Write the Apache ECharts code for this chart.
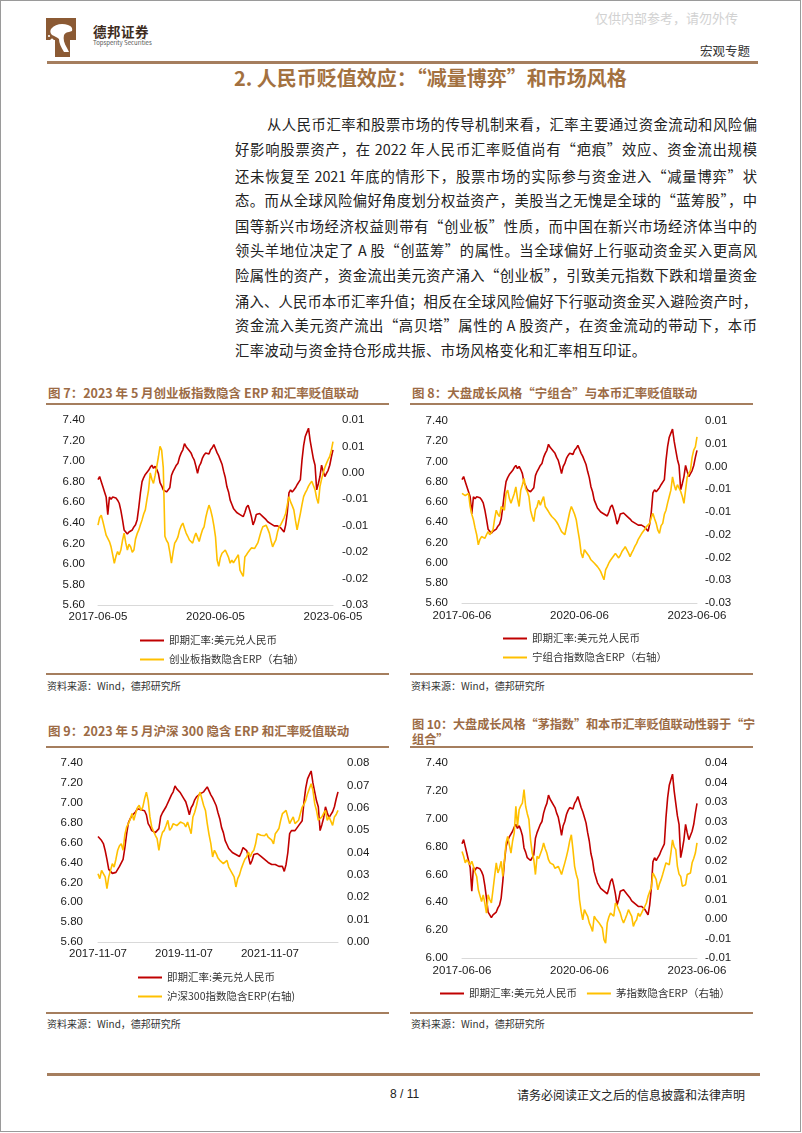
<!DOCTYPE html>
<html lang="zh-CN">
<head>
<meta charset="utf-8">
<title>德邦证券 宏观专题</title>
<script src="https://cdn.jsdelivr.net/npm/echarts/dist/echarts.min.js"></script>
<style>
  html,body{margin:0;padding:0;background:#fff;}
  body{width:802px;height:1133px;position:relative;overflow:hidden;font-family:"Noto Sans CJK SC",sans-serif;color:#222;}
  .abs{position:absolute;white-space:nowrap;}
  .frame{position:absolute;left:0;top:0;width:799px;height:1130px;border:1.5px solid #9a9a9a;}
  .rule{position:absolute;background:#a57e5e;}
  .bl{position:absolute;left:235px;width:522px;font-size:14.3px;line-height:20px;text-align:justify;text-align-last:justify;color:#222;}
  .ct{position:absolute;font-size:12.5px;font-weight:bold;color:#9c6b45;line-height:16px;white-space:nowrap;}
  .src{position:absolute;font-size:10px;color:#333;line-height:12px;white-space:nowrap;}
  .chart{position:absolute;}
</style>
</head>
<body>
<div class="frame"></div>

<!-- header -->
<svg class="abs" style="left:46px;top:18px" width="32" height="40" viewBox="0 0 32 40">
  <path d="M0 0 H30 V22 H24 V39 H9 V22 H0 Z" fill="#8b5a34"/>
  <path d="M5 11 C9 6,16 5,22 7 C25 8,27 10,26 13 L23 14 C21 14,19 15,18 17 C17 21,18 25,21 30 L23 34 L18 34 C15 29,13 25,13 21 C11 19,8 18,6 17 C4 15,4 13,5 11 Z" fill="#fff"/>
  <circle cx="6" cy="22" r="1.6" fill="#fff"/>
  <circle cx="3" cy="18" r="1.1" fill="#fff"/>
</svg>
<div class="abs" style="left:93px;top:21px;font-size:13.5px;font-weight:bold;color:#3e2c20;letter-spacing:0.5px;">德邦证券</div>
<div class="abs" style="left:93px;top:38px;font-size:6px;color:#555;">Topsperity Securities</div>
<div class="abs" style="left:595px;top:8px;font-size:13px;color:#d2d2d2;">仅供内部参考，请勿外传</div>
<div class="abs" style="left:700px;top:41px;font-size:12.5px;color:#333;">宏观专题</div>
<div class="rule" style="left:47px;top:61px;width:711px;height:2.5px;"></div>
<div class="abs" style="left:234px;top:65px;font-size:20px;line-height:26px;font-weight:bold;color:#a3713f;">2. 人民币贬值效应：“减量博弈”和市场风格</div>

<!-- body text -->
<div class="bl" style="top:114px;left:267px;width:490px;">从人民币汇率和股票市场的传导机制来看，汇率主要通过资金流动和风险偏</div>
<div class="bl" style="top:139px;">好影响股票资产，在 2022 年人民币汇率贬值尚有“疤痕”效应、资金流出规模</div>
<div class="bl" style="top:166px;">还未恢复至 2021 年底的情形下，股票市场的实际参与资金进入“减量博弈”状</div>
<div class="bl" style="top:190px;">态。而从全球风险偏好角度划分权益资产，美股当之无愧是全球的“蓝筹股”，中</div>
<div class="bl" style="top:216px;">国等新兴市场经济权益则带有“创业板”性质，而中国在新兴市场经济体当中的</div>
<div class="bl" style="top:240px;">领头羊地位决定了 A 股“创蓝筹”的属性。当全球偏好上行驱动资金买入更高风</div>
<div class="bl" style="top:265px;">险属性的资产，资金流出美元资产涌入“创业板”，引致美元指数下跌和增量资金</div>
<div class="bl" style="top:291px;">涌入、人民币本币汇率升值；相反在全球风险偏好下行驱动资金买入避险资产时，</div>
<div class="bl" style="top:315px;">资金流入美元资产流出“高贝塔”属性的 A 股资产，在资金流动的带动下，本币</div>
<div class="bl" style="top:340px;text-align:left;text-align-last:left;letter-spacing:0.4px;">汇率波动与资金持仓形成共振、市场风格变化和汇率相互印证。</div>

<!-- chart titles and rules -->
<div class="ct" style="left:48px;top:385px;">图 7：2023 年 5 月创业板指数隐含 ERP 和汇率贬值联动</div>
<div class="ct" style="left:412px;top:385px;">图 8：大盘成长风格“宁组合”与本币汇率贬值联动</div>
<div class="rule" style="left:46px;top:403px;width:343px;height:1.5px;"></div>
<div class="rule" style="left:410px;top:403px;width:343px;height:1.5px;"></div>
<div class="rule" style="left:46px;top:673px;width:343px;height:1.5px;"></div>
<div class="rule" style="left:410px;top:673px;width:343px;height:1.5px;"></div>
<div class="src" style="left:47px;top:680px;">资料来源：Wind，德邦研究所</div>
<div class="src" style="left:411px;top:680px;">资料来源：Wind，德邦研究所</div>

<div class="ct" style="left:48px;top:723px;">图 9：2023 年 5 月沪深 300 隐含 ERP 和汇率贬值联动</div>
<div class="ct" style="left:412px;top:716px;font-size:12.2px;letter-spacing:-0.1px;">图 10：大盘成长风格“茅指数”和本币汇率贬值联动性弱于“宁</div>
<div class="ct" style="left:412px;top:731px;font-size:12.2px;">组合”</div>
<div class="rule" style="left:46px;top:746px;width:343px;height:1.5px;"></div>
<div class="rule" style="left:410px;top:746px;width:343px;height:1.5px;"></div>
<div class="rule" style="left:46px;top:1012px;width:343px;height:1.5px;"></div>
<div class="rule" style="left:410px;top:1012px;width:343px;height:1.5px;"></div>
<div class="src" style="left:47px;top:1018px;">资料来源：Wind，德邦研究所</div>
<div class="src" style="left:411px;top:1018px;">资料来源：Wind，德邦研究所</div>

<!-- charts -->
<div id="c7" class="chart" style="left:40px;top:408px;width:360px;height:265px;"></div>
<div id="c8" class="chart" style="left:405px;top:408px;width:360px;height:265px;"></div>
<div id="c9" class="chart" style="left:40px;top:752px;width:360px;height:258px;"></div>
<div id="c10" class="chart" style="left:405px;top:752px;width:360px;height:258px;"></div>

<!-- footer -->
<div class="rule" style="left:47px;top:1073px;width:713px;height:2.5px;"></div>
<div class="abs" style="left:390px;top:1087px;font-size:12px;font-family:'Liberation Sans',sans-serif;color:#222;">8 / 11</div>
<div class="abs" style="left:517px;top:1086px;font-size:12px;color:#222;">请务必阅读正文之后的信息披露和法律声明</div>

<script>
// ---------------- data (half-monthly) ----------------
// USD/CNY spot, 2017-06 (first half) .. 2023-06 (first half)
const usdcny = [
 6.82,6.85,6.80,6.75,6.70,6.65,6.48,6.65,6.63,6.65,
 6.66,6.64,6.62,6.59,6.52,6.43,6.33,6.31,6.29,6.31,
 6.30,6.33,6.36,6.38,6.43,6.55,6.69,6.80,6.84,6.87,
 6.88,6.91,6.94,6.96,6.93,6.95,6.92,6.88,6.79,6.76,
 6.72,6.73,6.70,6.71,6.74,6.86,6.90,6.93,6.96,6.98,
 7.04,7.08,7.11,7.17,7.14,7.12,7.10,7.08,7.04,7.01,
 6.95,6.88,6.95,6.98,7.03,7.06,7.08,7.09,7.07,7.11,
 7.13,7.16,7.12,7.08,7.05,7.01,6.97,6.90,6.84,6.75,
 6.70,6.62,6.58,6.54,6.53,6.50,6.49,6.48,6.47,6.46,
 6.50,6.55,6.57,6.52,6.46,6.38,6.42,6.48,6.47,6.49,
 6.48,6.46,6.45,6.43,6.41,6.40,6.39,6.38,6.37,6.38,
 6.37,6.36,6.35,6.36,6.31,6.38,6.50,6.69,6.72,6.70,
 6.72,6.74,6.77,6.78,6.82,7.01,7.15,7.24,7.28,7.32,
 7.20,7.11,7.02,6.96,6.72,6.78,6.85,6.96,6.90,6.85,
 6.88,6.91,6.96,7.04,7.11];

// 创业板指数隐含ERP
const erpChiNext = [
 -0.0099,-0.0085,-0.0080,-0.0092,-0.0105,-0.0118,-0.0124,-0.0130,-0.0140,-0.0155,
 -0.0171,-0.0158,-0.0149,-0.0155,-0.0146,-0.0128,-0.0114,-0.0132,-0.0146,-0.0135,
 -0.0140,-0.0150,-0.0146,-0.0125,-0.0115,-0.0108,-0.0098,-0.0089,-0.0078,-0.0070,
 -0.0050,-0.0032,0.0000,-0.0012,-0.0020,-0.0005,0.0012,0.0030,0.0050,0.0043,
 0.0010,-0.0120,-0.0128,-0.0133,-0.0150,-0.0171,-0.0150,-0.0133,-0.0128,-0.0121,
 -0.0108,-0.0100,-0.0095,-0.0105,-0.0114,-0.0120,-0.0127,-0.0128,-0.0133,-0.0122,
 -0.0114,-0.0122,-0.0130,-0.0118,-0.0108,-0.0102,-0.0085,-0.0072,-0.0061,-0.0070,
 -0.0083,-0.0100,-0.0121,-0.0165,-0.0177,-0.0160,-0.0152,-0.0150,-0.0146,-0.0146,
 -0.0160,-0.0171,-0.0165,-0.0170,-0.0171,-0.0160,-0.0155,-0.0184,-0.0190,-0.0196,
 -0.0159,-0.0155,-0.0150,-0.0146,-0.0142,-0.0140,-0.0143,-0.0146,-0.0132,-0.0121,
 -0.0110,-0.0102,-0.0100,-0.0099,-0.0106,-0.0114,-0.0128,-0.0140,-0.0133,-0.0127,
 -0.0112,-0.0102,-0.0098,-0.0095,-0.0085,-0.0077,-0.0060,-0.0045,-0.0055,-0.0062,
 -0.0070,-0.0090,-0.0108,-0.0092,-0.0077,-0.0060,-0.0045,-0.0038,-0.0032,-0.0025,
 -0.0020,-0.0016,-0.0013,-0.0032,-0.0048,-0.0058,-0.0026,-0.0012,0.0000,0.0010,
 0.0018,0.0025,0.0031,0.0043,0.0059];

// 宁组合指数隐含ERP
const erpNing = [
 -0.0059,-0.0055,-0.0064,-0.0066,-0.0059,-0.0088,-0.0105,-0.0117,-0.0135,-0.0150,
 -0.0172,-0.0160,-0.0154,-0.0150,-0.0158,-0.0150,-0.0143,-0.0150,-0.0145,-0.0139,
 -0.0115,-0.0096,-0.0105,-0.0110,-0.0088,-0.0092,-0.0096,-0.0059,-0.0052,-0.0070,
 -0.0081,-0.0081,-0.0060,-0.0045,-0.0070,-0.0088,-0.0052,-0.0040,-0.0026,-0.0048,
 -0.0055,-0.0066,-0.0096,-0.0110,-0.0121,-0.0095,-0.0088,-0.0074,-0.0085,-0.0075,
 -0.0066,-0.0088,-0.0092,-0.0099,-0.0105,-0.0110,-0.0112,-0.0117,-0.0122,-0.0128,
 -0.0128,-0.0143,-0.0145,-0.0150,-0.0150,-0.0117,-0.0100,-0.0088,-0.0096,-0.0105,
 -0.0117,-0.0140,-0.0161,-0.0190,-0.0201,-0.0183,-0.0188,-0.0191,-0.0198,-0.0205,
 -0.0208,-0.0212,-0.0216,-0.0220,-0.0225,-0.0231,-0.0240,-0.0249,-0.0227,-0.0220,
 -0.0212,-0.0206,-0.0201,-0.0196,-0.0191,-0.0196,-0.0201,-0.0195,-0.0187,-0.0182,
 -0.0176,-0.0176,-0.0190,-0.0198,-0.0190,-0.0183,-0.0175,-0.0169,-0.0160,-0.0154,
 -0.0148,-0.0143,-0.0138,-0.0132,-0.0128,-0.0125,-0.0112,-0.0103,-0.0115,-0.0125,
 -0.0140,-0.0147,-0.0130,-0.0125,-0.0105,-0.0096,-0.0080,-0.0066,-0.0052,-0.0023,
 -0.0040,-0.0052,-0.0040,-0.0037,-0.0055,-0.0066,-0.0081,-0.0052,-0.0023,-0.0015,
 -0.0008,0.0020,0.0036,0.0043,0.0065];

// 沪深300指数隐含ERP, 2017-11 .. 2023-06
const erpHS300 = [
 0.0305,0.0283,0.0320,0.0313,0.0291,0.0238,0.0291,0.0320,0.0350,0.0335,
 0.0370,0.0410,0.0430,0.0439,0.0410,0.0480,0.0514,0.0529,0.0550,0.0574,
 0.0544,0.0574,0.0600,0.0611,0.0588,0.0603,0.0640,0.0670,0.0633,0.0559,
 0.0514,0.0495,0.0477,0.0462,0.0410,0.0462,0.0490,0.0499,0.0521,0.0544,
 0.0499,0.0510,0.0529,0.0536,0.0520,0.0514,0.0536,0.0532,0.0529,0.0514,
 0.0536,0.0510,0.0484,0.0559,0.0580,0.0610,0.0648,0.0670,0.0640,0.0610,
 0.0588,0.0529,0.0480,0.0440,0.0380,0.0410,0.0395,0.0375,0.0365,0.0372,
 0.0350,0.0358,0.0365,0.0335,0.0320,0.0313,0.0291,0.0246,0.0283,0.0300,
 0.0328,0.0350,0.0370,0.0380,0.0402,0.0380,0.0400,0.0410,0.0439,0.0484,
 0.0480,0.0477,0.0469,0.0475,0.0484,0.0469,0.0462,0.0455,0.0439,0.0484,
 0.0495,0.0507,0.0544,0.0574,0.0580,0.0588,0.0596,0.0529,0.0545,0.0559,
 0.0529,0.0535,0.0544,0.0574,0.0603,0.0615,0.0633,0.0663,0.0685,0.0707,
 0.0678,0.0618,0.0588,0.0544,0.0550,0.0559,0.0575,0.0588,0.0544,0.0559,
 0.0540,0.0521,0.0559,0.0570,0.0588];

// 茅指数隐含ERP
const erpMao = [
 0.0173,0.0161,0.0144,0.0152,0.0145,0.0139,0.0148,0.0135,0.0120,0.0109,
 0.0075,0.0060,0.0045,0.0062,0.0040,0.0015,0.0062,0.0050,0.0041,0.0075,
 0.0110,0.0144,0.0118,0.0130,0.0148,0.0109,0.0150,0.0195,0.0212,0.0190,
 0.0169,0.0200,0.0220,0.0289,0.0238,0.0280,0.0290,0.0297,0.0332,0.0289,
 0.0270,0.0255,0.0203,0.0170,0.0152,0.0114,0.0161,0.0155,0.0152,0.0178,
 0.0195,0.0180,0.0169,0.0152,0.0144,0.0140,0.0139,0.0130,0.0127,0.0135,
 0.0125,0.0114,0.0109,0.0144,0.0160,0.0178,0.0200,0.0216,0.0178,0.0135,
 0.0115,0.0101,0.0050,0.0020,-0.0002,0.0024,0.0015,0.0007,-0.0010,-0.0020,
 -0.0032,0.0007,0.0000,-0.0002,-0.0010,-0.0015,-0.0023,-0.0053,-0.0062,-0.0010,
 0.0005,0.0015,0.0010,0.0007,0.0041,0.0035,0.0032,0.0015,0.0000,-0.0010,
 0.0000,0.0011,0.0024,0.0015,0.0007,-0.0019,-0.0008,-0.0002,0.0015,0.0007,
 0.0015,0.0024,0.0032,0.0041,0.0058,0.0070,0.0079,0.0118,0.0110,0.0101,
 0.0075,0.0090,0.0101,0.0115,0.0118,0.0144,0.0140,0.0139,0.0169,0.0203,
 0.0185,0.0178,0.0135,0.0115,0.0109,0.0084,0.0086,0.0088,0.0114,0.0116,
 0.0118,0.0144,0.0155,0.0169,0.0195];

// tick labels shown on the x axes
const ticks7  = ['2017-06-05','2020-06-05','2023-06-05'];
const ticks8  = ['2017-06-06','2020-06-06','2023-06-06'];
const ticks9  = ['2017-11-07','2019-11-07','2021-11-07'];
const ticks10 = ['2017-06-06','2020-06-06','2023-06-06'];

// series names
const nameFx = '即期汇率:美元兑人民币';
const name7 = '创业板指数隐含ERP（右轴）';
const name8 = '宁组合指数隐含ERP（右轴）';
const name9 = '沪深300指数隐含ERP(右轴)';
const name10 = '茅指数隐含ERP（右轴）';

// half-monthly category dates
function halfMonthCats(y, m, d1, d2, n){
  const out = [];
  for (let i = 0; i < n; i++){
    const mm = m - 1 + Math.floor(i / 2);
    const yy = y + Math.floor(mm / 12);
    const mo = mm % 12 + 1;
    const d = (i % 2 === 0) ? d1 : d2;
    out.push(yy + '-' + String(mo).padStart(2,'0') + '-' + String(d).padStart(2,'0'));
  }
  return out;
}
const cats7  = halfMonthCats(2017, 6, 5, 20, usdcny.length);
const cats8  = halfMonthCats(2017, 6, 6, 21, usdcny.length);
const cats9  = halfMonthCats(2017, 11, 7, 22, erpHS300.length);
const cats10 = halfMonthCats(2017, 6, 6, 21, usdcny.length);
const fx9 = usdcny.slice(usdcny.length - erpHS300.length);

// ---------------- chart builder ----------------
const RED = '#c00000', YEL = '#ffc000';
function erpLabel(v){
  const k = Math.round(v / 0.005);
  const h = Math.sign(k) * Math.ceil(Math.abs(k) / 2);
  return (h / 100).toFixed(2);
}
function build(id, c){
  const chart = echarts.init(document.getElementById(id), null, {renderer:'canvas'});
  const labelFont = {color:'#1a1a1a', fontSize:11.5, fontFamily:'Liberation Sans, Arial, sans-serif'};
  chart.setOption({
    animation:false,
    grid:{left:c.grid[0], right:c.grid[1], top:c.grid[2], height:c.grid[3], containLabel:false},
    legend:Object.assign({
      icon:'rect', itemWidth:24, itemHeight:2, selectedMode:false, padding:0,
      textStyle:{fontSize:10.5, color:'#333', fontFamily:'Noto Sans CJK SC', lineHeight:13},
      data:[nameFx, c.yName]
    }, c.legend),
    xAxis:{
      type:'category', data:c.cats, boundaryGap:false,
      axisLine:{onZero:false, lineStyle:{color:'#d9d9d9', width:1}},
      axisTick:{show:false},
      splitLine:{show:false},
      axisLabel:Object.assign({interval:(i, v) => c.ticks.includes(v), margin:c.xMargin}, labelFont)
    },
    yAxis:[
      {type:'value', min:c.left[0], max:c.left[1], interval:c.left[2], position:'left',
       axisLine:{show:false}, axisTick:{show:false}, splitLine:{show:false},
       axisLabel:Object.assign({formatter:v => v.toFixed(2), margin:c.lm}, labelFont)},
      {type:'value', min:c.right[0], max:c.right[1], interval:c.right[2], position:'right',
       axisLine:{show:false}, axisTick:{show:false}, splitLine:{show:false},
       axisLabel:Object.assign({formatter:erpLabel, margin:c.rm, align:'left'}, labelFont)}
    ],
    series:[
      {name:nameFx, type:'line', data:c.fx, yAxisIndex:0, symbol:'none', showSymbol:false,
       lineStyle:{color:RED, width:1.6}, itemStyle:{color:RED}},
      {name:c.yName, type:'line', data:c.erp, yAxisIndex:1, symbol:'none', showSymbol:false,
       lineStyle:{color:YEL, width:1.6}, itemStyle:{color:YEL}}
    ]
  });
}

build('c7', {
  cats:cats7, ticks:ticks7, fx:usdcny, erp:erpChiNext, yName:name7,
  grid:[58, 67, 12, 185], xMargin:6, lm:13, rm:9,
  left:[5.6, 7.4, 0.2], right:[-0.025, 0.01, 0.005],
  legend:{orient:'vertical', left:100, top:226, itemGap:6}
});
build('c8', {
  cats:cats8, ticks:ticks8, fx:usdcny, erp:erpNing, yName:name8,
  grid:[57, 68, 13, 182], xMargin:7, lm:14, rm:8,
  left:[5.6, 7.4, 0.2], right:[-0.03, 0.01, 0.005],
  legend:{orient:'vertical', left:98, top:224, itemGap:6}
});
build('c9', {
  cats:cats9, ticks:ticks9, fx:fx9, erp:erpHS300, yName:name9,
  grid:[58, 62, 11, 179], xMargin:6, lm:15, rm:9,
  left:[5.6, 7.4, 0.2], right:[0, 0.08, 0.01],
  legend:{orient:'vertical', left:98, top:219, itemGap:6}
});
build('c10', {
  cats:cats10, ticks:ticks10, fx:usdcny, erp:erpMao, yName:name10,
  grid:[57, 68, 11, 195], xMargin:7, lm:14, rm:8,
  left:[6.0, 7.4, 0.2], right:[-0.01, 0.04, 0.005],
  legend:{orient:'horizontal', left:35, top:235, itemGap:10}
});
</script>
</body>
</html>
